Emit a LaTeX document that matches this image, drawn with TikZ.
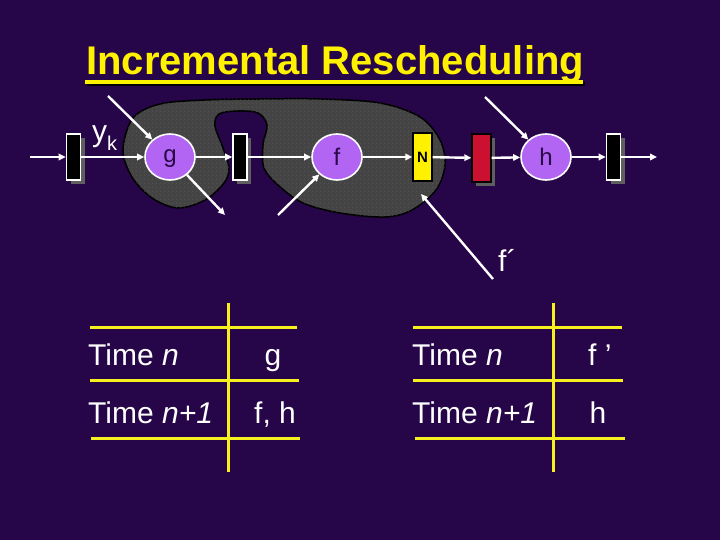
\documentclass[tikz,border=0pt]{standalone}
\usepackage{fontspec}
\setmainfont{Liberation Sans}
\usetikzlibrary{arrows.meta,shapes.geometric,shadows,patterns}
\definecolor{bgpurple}{RGB}{38,5,72}
\definecolor{blobgray}{RGB}{68,68,68}
\definecolor{dotgray}{RGB}{105,105,105}
\definecolor{circpurple}{RGB}{178,100,242}
\definecolor{labpurple}{RGB}{40,8,70}
\definecolor{crimson}{RGB}{204,16,48}
\definecolor{tyellow}{RGB}{245,240,30}
\definecolor{shgray}{RGB}{95,95,95}
\pgfdeclarepatternformonly{sparsedots}{\pgfpointorigin}{\pgfpoint{4pt}{4pt}}{\pgfpoint{4pt}{4pt}}%
  {\pgfpathcircle{\pgfpoint{1pt}{1pt}}{0.55pt}\pgfusepath{fill}}
\tikzset{
  arr/.style={draw=white, line width=2.4pt, -{Triangle[length=7pt,width=6.5pt]}},
  proc/.style={ellipse, draw=white, line width=1.6pt, fill=circpurple, minimum width=50pt, minimum height=46pt, inner sep=0pt, text=labpurple, font=\fontsize{24}{24}\selectfont, text height=18pt, text depth=0pt},
  latch/.style={rectangle, draw=white, line width=1.6pt, fill=black, minimum width=14pt, minimum height=46pt, inner sep=0pt,
     drop shadow={shadow xshift=4pt, shadow yshift=-4pt, fill=shgray, opacity=1}},
  tline/.style={draw=tyellow, line width=3pt},
  ttext/.style={text=white, font=\fontsize{30}{30}\selectfont, inner sep=0pt},
}
\begin{document}
\begin{tikzpicture}[x=1pt,y=-1pt]
\fill[bgpurple] (0,0) rectangle (720,540);
\useasboundingbox (0,0) rectangle (720,540);

% title
\draw[black, line width=3.5pt] (87,84) -- (585,84);
\draw[yellow, line width=3.5pt] (85,82) -- (583,82);
\node[anchor=base west, inner sep=0pt, text=yellow, font=\bfseries\fontsize{40}{40}\selectfont] (title) at (86,75)
  {Incremental Rescheduling};

% blob
\draw[black, line width=1.5pt, fill=blobgray, postaction={pattern=sparsedots, pattern color=dotgray}]
  plot[smooth cycle, tension=0.55] coordinates {
  (123,150) (133,118) (160,104) (205,100) (260,99) (320,99) (380,103) (420,117)
  (440,140) (445,165) (436,190) (412,210) (385,217) (340,213) (303,203) (278,185)
  (264,168) (263,145) (267,125) (258,113) (238,111) (219,114) (215,126) (223,148)
  (229,168) (224,183) (205,200) (178,208) (152,198) (132,177)};

% nodes
\node[latch] (r1) at (73.5,157) {};
\node[proc, text height=12pt] (g) at (170,157) {g};
\node[latch] (r2) at (240,157) {};
\node[proc] (f) at (337,157) {f};
\node[rectangle, draw=black, line width=1.4pt, fill=yellow, minimum width=19pt, minimum height=48pt, inner sep=0pt, font=\bfseries\fontsize{15}{15}\selectfont] (N) at (422.5,157) {N};
\node[rectangle, draw=black, line width=1.4pt, fill=crimson, minimum width=19pt, minimum height=48pt, inner sep=0pt,
  drop shadow={shadow xshift=4pt, shadow yshift=-4pt, fill=shgray, opacity=1}] (red) at (481.5,158) {};
\node[proc] (h) at (546,157) {h};
\node[latch] (r4) at (613.5,157) {};

\node[anchor=base west, inner sep=0pt, text=white, font=\fontsize{30}{30}\selectfont] (yk) at (92,142) {y\raisebox{-9pt}{\fontsize{20}{20}\selectfont k}};

% free ends
\coordinate (in0) at (30,157);
\coordinate (out0) at (657,157);
\coordinate (gin) at (108,96);
\coordinate (gout) at (225,215);
\coordinate (fin) at (278,215);
\coordinate (hin) at (485,97);
\coordinate (fpa) at (493,279);
\coordinate (fpb) at (421,194);

% connectors
\draw[arr] (in0) -- (r1);
\draw[arr] (r1) -- (g);
\draw[arr] (g) -- (r2);
\draw[arr] (r2) -- (f);
\draw[arr] (f) -- (N);
\draw[arr] (N) -- (red);
\draw[arr] (red) -- (h);
\draw[arr] (h) -- (r4);
\draw[arr] (r4) -- (out0);
\draw[arr] (gin) -- (g);
\draw[arr] (g) -- (gout);
\draw[arr] (fin) -- (f);
\draw[arr] (hin) -- (h);
\draw[arr] (fpa) -- (fpb);

\node[anchor=base west, inner sep=0pt, text=white, font=\fontsize{30}{30}\selectfont] (fprime) at (498,271) {f´};

% left table
\draw[tline] (228,303) -- (228,472);
\draw[tline] (90,327) -- (297,327);
\draw[tline] (90,380) -- (299,380);
\draw[tline] (91,438) -- (300,438);
\node[ttext, anchor=base west] (l1) at (88,365) {Time \textit{n}};
\node[ttext, anchor=base] (l1v) at (273,365) {g};
\node[ttext, anchor=base west] (l2) at (88,423) {Time \textit{n+1}};
\node[ttext, anchor=base west] (l2v) at (254,423) {f, h};

% right table
\draw[tline] (553,303) -- (553,472);
\draw[tline] (413,327) -- (622,327);
\draw[tline] (413,380) -- (623,380);
\draw[tline] (415,438) -- (625,438);
\node[ttext, anchor=base west] (r1t) at (412,365) {Time \textit{n}};
\node[ttext, anchor=base west] (r1v) at (588,365) {f ’};
\node[ttext, anchor=base west] (r2t) at (412,423) {Time \textit{n+1}};
\node[ttext, anchor=base] (r2v) at (598,423) {h};
\end{tikzpicture}
\end{document}
